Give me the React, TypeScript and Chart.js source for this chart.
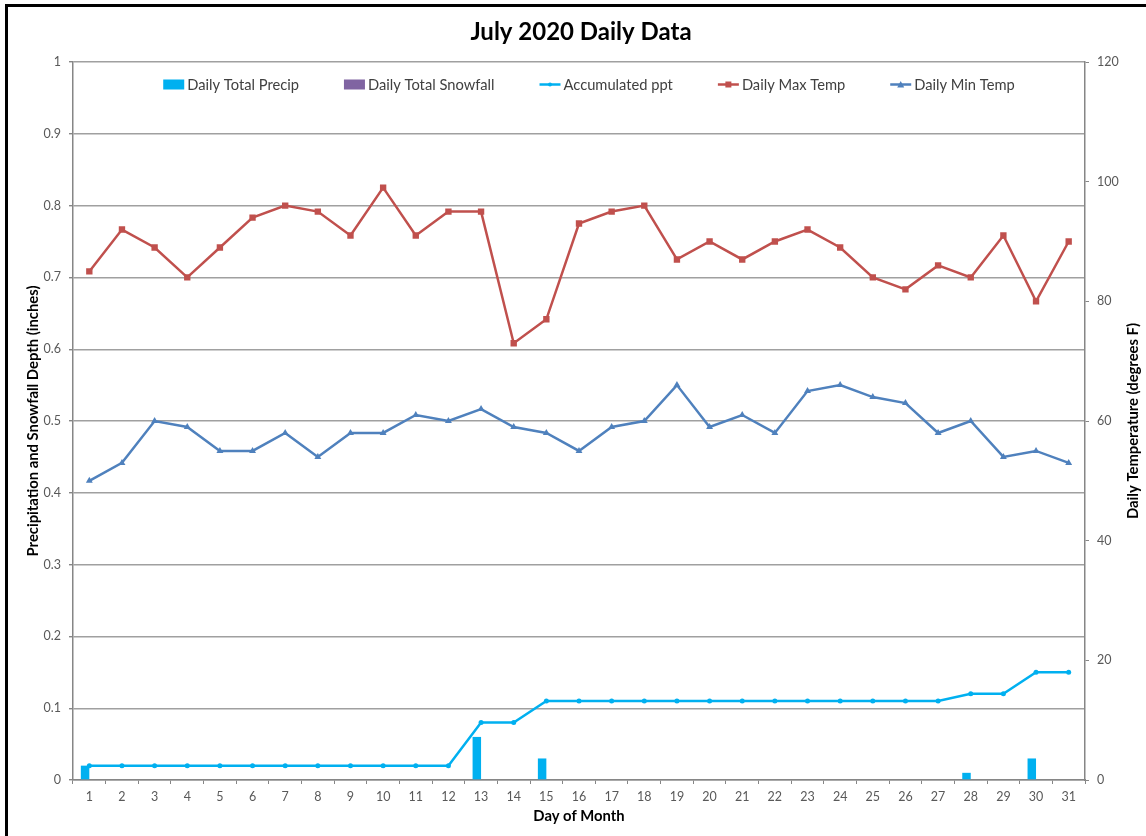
import React, { useEffect, useRef } from "react";
import { Chart, registerables } from "chart.js";

Chart.register(...registerables);

const FONT = "Lato, 'Open Sans', sans-serif";

const days = ["1","2","3","4","5","6","7","8","9","10","11","12","13","14","15","16","17","18","19","20","21","22","23","24","25","26","27","28","29","30","31"];

const dailyPrecip = [0.02,0,0,0,0,0,0,0,0,0,0,0,0.06,0,0.03,0,0,0,0,0,0,0,0,0,0,0,0,0.01,0,0.03,0];
const dailySnowfall = [0,0,0,0,0,0,0,0,0,0,0,0,0,0,0,0,0,0,0,0,0,0,0,0,0,0,0,0,0,0,0];
const accumulatedPpt = [0.02,0.02,0.02,0.02,0.02,0.02,0.02,0.02,0.02,0.02,0.02,0.02,0.08,0.08,0.11,0.11,0.11,0.11,0.11,0.11,0.11,0.11,0.11,0.11,0.11,0.11,0.11,0.12,0.12,0.15,0.15];
const maxTemp = [85,92,89,84,89,94,96,95,91,99,91,95,95,73,77,93,95,96,87,90,87,90,92,89,84,82,86,84,91,80,90];
const minTemp = [50,53,60,59,55,55,58,54,58,58,61,60,62,59,58,55,59,60,66,59,61,58,65,66,64,63,58,60,54,55,53];

const leftTicks = { min: 0, max: 1, step: 0.1 };
const rightTicks = { min: 0, max: 120, step: 20 };

const C_PRECIP = "#00B0F0";
const C_SNOW = "#8064A2";
const C_ACC = "#00B0F0";
const C_MAX = "#C0504D";
const C_MIN = "#4F81BD";
const AXIS = "#868686";
const GRID = "#A0A0A0";
const TICK_TXT = "#595959";

function drawMarker(ctx: CanvasRenderingContext2D, style: string, x: number, y: number, s: number, color: string) {
  ctx.fillStyle = color;
  ctx.beginPath();
  if (style === "rect") {
    ctx.rect(x - s / 2, y - s / 2, s, s);
  } else if (style === "triangle") {
    ctx.moveTo(x, y - s / 2 - 0.5);
    ctx.lineTo(x + s / 2 + 0.5, y + s / 2);
    ctx.lineTo(x - s / 2 - 0.5, y + s / 2);
    ctx.closePath();
  } else {
    ctx.arc(x, y, s / 2, 0, Math.PI * 2);
  }
  ctx.fill();
}

const extrasPlugin = {
  id: "extras",
  afterDraw(chart: any) {
    const ctx: CanvasRenderingContext2D = chart.ctx;
    const area = chart.chartArea;
    ctx.save();
    // legend
    ctx.font = `14.7px ${FONT}`;
    ctx.textBaseline = "middle";
    const symW = 21;
    const symGap = 3;
    const itemGap = 45;
    const items = chart.data.datasets.map((ds: any) => ({
      label: ds.label as string,
      type: ds.type as string,
      color: (ds.type === "bar" ? ds.backgroundColor : ds.borderColor) as string,
      marker: (ds.pointStyle || "circle") as string,
    }));
    const widths = items.map((it: any) => symW + symGap + ctx.measureText(it.label).width);
    const total = widths.reduce((a: number, b: number) => a + b, 0) + itemGap * (items.length - 1);
    let x = (area.left + area.right) / 2 + 10 - total / 2;
    const y = area.top + 22.5;
    items.forEach((it: any, i: number) => {
      if (it.type === "bar") {
        ctx.fillStyle = it.color;
        ctx.fillRect(x, y - 5, symW, 10);
      } else {
        ctx.strokeStyle = it.color;
        ctx.lineWidth = 2.5;
        ctx.beginPath();
        ctx.moveTo(x, y);
        ctx.lineTo(x + symW, y);
        ctx.stroke();
        drawMarker(ctx, it.marker, x + symW / 2, y, it.marker === "circle" ? 4 : 6, it.color);
      }
      ctx.fillStyle = "#404040";
      ctx.textAlign = "left";
      ctx.fillText(it.label, x + symW + symGap, y + 1);
      x += widths[i] + itemGap;
    });
    // right axis title (reads bottom-to-top)
    const y1 = chart.scales.y1;
    ctx.font = `bold 14.8px ${FONT}`;
    ctx.fillStyle = "#000000";
    ctx.translate(y1.right - 13, (area.top + area.bottom) / 2);
    ctx.rotate(-Math.PI / 2);
    ctx.textAlign = "center";
    ctx.textBaseline = "middle";
    ctx.fillText("Daily Temperature (degrees F)", 0, 0);
    ctx.restore();
  },
};

export default function App() {
  const ref = useRef<HTMLCanvasElement | null>(null);

  useEffect(() => {
    if (!ref.current) return;
    const chart = new Chart(ref.current, {
      type: "bar",
      data: {
        labels: days,
        datasets: [
          {
            type: "bar",
            label: "Daily Total Precip",
            data: dailyPrecip,
            backgroundColor: C_PRECIP,
            yAxisID: "y",
            categoryPercentage: 0.52,
            barPercentage: 1.0,
            order: 4,
          },
          {
            type: "bar",
            label: "Daily Total Snowfall",
            data: dailySnowfall,
            backgroundColor: C_SNOW,
            yAxisID: "y",
            categoryPercentage: 0.52,
            barPercentage: 1.0,
            order: 5,
          },
          {
            type: "line",
            label: "Accumulated ppt",
            data: accumulatedPpt,
            borderColor: C_ACC,
            backgroundColor: C_ACC,
            borderWidth: 2.5,
            pointStyle: "circle",
            pointRadius: 2.5,
            pointBorderWidth: 0,
            yAxisID: "y",
            tension: 0,
            order: 3,
          },
          {
            type: "line",
            label: "Daily Max Temp",
            data: maxTemp,
            borderColor: C_MAX,
            backgroundColor: C_MAX,
            borderWidth: 2.5,
            pointStyle: "rect",
            pointRadius: 4.5,
            pointBorderWidth: 0,
            yAxisID: "y1",
            tension: 0,
            order: 2,
          },
          {
            type: "line",
            label: "Daily Min Temp",
            data: minTemp,
            borderColor: C_MIN,
            backgroundColor: C_MIN,
            borderWidth: 2.5,
            pointStyle: "triangle",
            pointRadius: 4,
            pointBorderWidth: 0,
            yAxisID: "y1",
            tension: 0,
            order: 1,
          },
        ] as any,
      },
      options: {
        animation: false,
        responsive: false,
        maintainAspectRatio: false,
        events: [],
        layout: { padding: { left: 16, right: 0, top: 0, bottom: 0 } },
        plugins: {
          legend: { display: false },
          tooltip: { enabled: false },
          title: {
            display: true,
            text: "July 2020 Daily Data",
            color: "#000000",
            font: { family: FONT, size: 24, weight: "bold" },
            padding: { top: 17.6, bottom: 15.6 },
          },
        },
        scales: {
          x: {
            type: "category",
            offset: true,
            grid: {
              offset: true,
              drawOnChartArea: false,
              drawTicks: true,
              tickLength: 4,
              color: AXIS,
              tickColor: AXIS,
            },
            border: { display: true, color: AXIS, width: 1.5 },
            ticks: {
              color: TICK_TXT,
              font: { family: FONT, size: 12.5 },
              padding: 5,
              maxRotation: 0,
              autoSkip: false,
            },
            title: {
              display: true,
              text: "Day of Month",
              color: "#000000",
              font: { family: FONT, size: 14.8, weight: "bold" },
              padding: { top: 0, bottom: 11 },
            },
            afterFit(scale: any) {
              scale.height = 56;
            },
          },
          y: {
            type: "linear",
            position: "left",
            min: leftTicks.min,
            max: leftTicks.max,
            ticks: {
              stepSize: leftTicks.step,
              color: TICK_TXT,
              font: { family: FONT, size: 12.5 },
              padding: 8,
              callback: (v: any) => String(Number(Number(v).toFixed(1))),
            },
            grid: {
              color: GRID,
              lineWidth: 1.4,
              drawTicks: true,
              tickLength: 4,
              tickColor: AXIS,
            },
            border: { display: true, color: AXIS, width: 1.5 },
            title: {
              display: true,
              text: "Precipitation and Snowfall Depth (inches)",
              color: "#000000",
              font: { family: FONT, size: 14.8, weight: "bold" },
              padding: { top: 8, bottom: 0 },
            },
            afterFit(scale: any) {
              scale.width = 57;
            },
          },
          y1: {
            type: "linear",
            position: "right",
            min: rightTicks.min,
            max: rightTicks.max,
            ticks: {
              stepSize: rightTicks.step,
              color: TICK_TXT,
              font: { family: FONT, size: 12.5 },
              padding: 8,
            },
            grid: {
              drawOnChartArea: false,
              drawTicks: true,
              tickLength: 4,
              color: AXIS,
              tickColor: AXIS,
            },
            border: { display: true, color: AXIS, width: 1.5 },
            afterFit(scale: any) {
              scale.width = 61;
            },
          },
        },
      } as any,
      plugins: [extrasPlugin],
    });
    return () => chart.destroy();
  }, []);

  return (
    <div
      style={{
        position: "fixed",
        left: 0,
        top: 0,
        width: 1146,
        height: 836,
        background: "#ffffff",
        overflow: "hidden",
      }}
    >
      <canvas ref={ref} width={1146} height={836} style={{ display: "block", width: 1146, height: 836 }} />
      <div
        style={{
          position: "absolute",
          left: 5,
          top: 4,
          width: 1200,
          height: 900,
          borderLeft: "3px solid #000",
          borderTop: "3px solid #000",
          pointerEvents: "none",
        }}
      />
    </div>
  );
}
